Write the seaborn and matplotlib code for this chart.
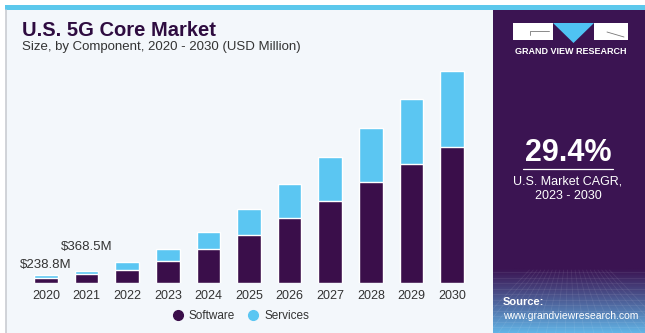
import numpy as np
import pandas as pd
import matplotlib
matplotlib.use("Agg")
import matplotlib.pyplot as plt
from matplotlib.patches import Rectangle, Polygon
from matplotlib.lines import Line2D
import seaborn as sns

# Market size by component, USD million
years = ["2020", "2021", "2022", "2023", "2024", "2025", "2026", "2027", "2028", "2029", "2030"]
software = [162, 270, 386, 655, 995, 1401, 1902, 2395, 2946, 3451, 3961]
services = [77, 98.5, 223, 340, 502, 745, 969, 1276, 1566, 1894, 2196]
labelled_years = ["2020", "2021"]
labelled_text = ["$238.8M", "$368.5M"]
cagr_text = "29.4%"

SOFTWARE_C = "#3a0e4a"
SERVICES_C = "#5bc6f2"
PANEL_C = "#3b1452"
BG_C = "#f3f7fb"
CYAN = "#5cc8ec"
TITLE_C = "#2e0c40"

sns.set_theme(style="white")
plt.rcParams["font.family"] = ["Liberation Sans", "DejaVu Sans"]

W, H = 645, 333
fig = plt.figure(figsize=(W / 100, H / 100), dpi=100, facecolor="white")

# Background canvas in pixel coordinates
bg = fig.add_axes([0, 0, 1, 1], zorder=0)
bg.set_xlim(0, W)
bg.set_ylim(H, 0)
bg.axis("off")
bg.add_patch(Rectangle((6, 10), 487, H - 10, color=BG_C, lw=0))
bg.add_line(Line2D([6, 6], [10, H], color="#c9ccd2", lw=1.2))
bg.add_patch(Rectangle((5, 5), W - 5, 5, color=CYAN, lw=0))
bg.add_patch(Rectangle((493, 10), W - 493, H - 10, color=PANEL_C, lw=0))

# Bottom glow of the side panel
grad = np.linspace(0, 1, 64)[:, None]
c0 = np.array(matplotlib.colors.to_rgb(PANEL_C))
c1 = np.array(matplotlib.colors.to_rgb("#62b4e6"))
img = c0 + (c1 - c0) * (grad ** 1.1)[:, :, None]
img = np.repeat(img, 4, axis=1)
bg.imshow(img, extent=(493, W, H, 268), aspect="auto", zorder=1)
for yy in np.linspace(272, H, 12):
    bg.add_line(Line2D([493, W], [yy, yy], color="white", alpha=0.08, lw=0.6, zorder=2))
for xx in np.linspace(470, 670, 22):
    bg.add_line(Line2D([569 + (xx - 569) * 0.4, xx], [270, H], color="white", alpha=0.08, lw=0.6, zorder=2))

# Logo
bg.add_patch(Rectangle((513, 23), 40, 17, color="white", lw=0, zorder=3))
bg.add_patch(Rectangle((594, 23), 34, 17, color="white", lw=0, zorder=3))
bg.add_patch(Polygon([[553, 23], [594, 23], [573.5, 43]], closed=True, color="#4fc3f3", lw=0, zorder=3))
bg.add_line(Line2D([530, 530, 549], [35, 31, 31], color="#777777", lw=0.6, zorder=4))
bg.add_line(Line2D([607, 624], [32, 37], color="#777777", lw=0.6, zorder=4))
bg.text(571, 52, "GRAND VIEW RESEARCH", color="white", fontsize=6.5, fontweight="bold",
        ha="center", va="center", zorder=4)

# CAGR block
bg.text(568, 153, cagr_text, color="white", fontsize=22, fontweight="bold", ha="center", va="center")
bg.add_line(Line2D([523, 613], [169, 169], color="white", lw=0.9))
bg.text(568, 182, "U.S. Market CAGR,", color="white", fontsize=9, ha="center", va="center")
bg.text(568, 196, "2023 - 2030", color="white", fontsize=9, ha="center", va="center")

# Source
bg.text(503, 302, "Source:", color="white", fontsize=8, fontweight="bold", ha="left", va="center", zorder=4)
bg.text(503, 316, "www.grandviewresearch.com", color="white", fontsize=7.5, ha="left", va="center", zorder=4)

# Titles
bg.text(22, 31, "U.S. 5G Core Market", color=TITLE_C, fontsize=14.5, fontweight="heavy", ha="left", va="center")
bg.text(22, 47, "Size, by Component, 2020 - 2030 (USD Million)", color="#333333", fontsize=9.5,
        ha="left", va="center")

# Stacked bars
df = pd.DataFrame({"year": years, "Software": software, "Services": services})
df["total"] = df["Software"] + df["Services"]

ax = fig.add_axes([25.7 / W, (H - 283.3) / H, 446.6 / W, 223.3 / H], zorder=1)
ax.patch.set_alpha(0)
sns.barplot(data=df, x="year", y="total", color=SERVICES_C, width=0.58, saturation=1, ax=ax)
sns.barplot(data=df, x="year", y="Software", color=SOFTWARE_C, width=0.58, saturation=1, ax=ax)
ax.set_xlim(-0.5, len(years) - 0.5)
ax.set_ylim(0, 223.3 * 29)
ax.set_xlabel("")
ax.set_ylabel("")
ax.set_yticks([])
ax.tick_params(axis="x", length=0, pad=5, labelsize=9, labelcolor="#333333")
sns.despine(ax=ax, left=True, bottom=True)

offsets = [3, 13]
for yr, txt, off in zip(labelled_years, labelled_text, offsets):
    i = years.index(yr)
    ax.annotate(txt, (i, df["total"][i]), xytext=(0, off), textcoords="offset points",
                ha="center", va="bottom", fontsize=9.5, color="#333333")

handles = [
    Line2D([], [], marker="o", ls="", color=SOFTWARE_C, markersize=7, label="Software"),
    Line2D([], [], marker="o", ls="", color=SERVICES_C, markersize=7, label="Services"),
]
fig.legend(handles=handles, loc="center", bbox_to_anchor=(241 / W, (H - 316) / H), ncol=2,
           frameon=False, fontsize=8.5, handlelength=0.8, handletextpad=0.5, columnspacing=1.2,
           labelcolor="#333333")

fig.savefig("out.png", dpi=100, facecolor="white")
